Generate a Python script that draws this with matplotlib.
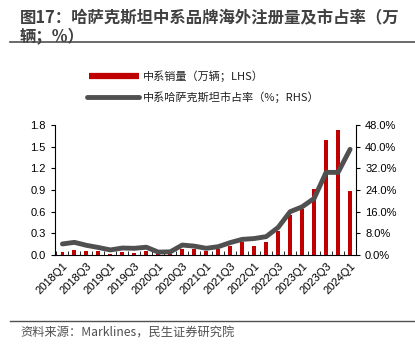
import numpy as np
import matplotlib.pyplot as plt

plt.rcParams['font.family'] = ['Liberation Sans', 'Noto Sans CJK SC', 'DejaVu Sans']

quarters = [f"{y}Q{q}" for y in range(2018, 2024) for q in range(1, 5)] + ["2024Q1"]
sales = [0.04, 0.065, 0.055, 0.05, 0.02, 0.04, 0.035, 0.06, 0.02, 0.02,
         0.09, 0.08, 0.055, 0.09, 0.13, 0.18, 0.13, 0.18, 0.33, 0.55,
         0.64, 0.91, 1.59, 1.73, 0.88]
share = [4.1, 4.7, 3.6, 2.8, 1.9, 2.6, 2.5, 2.9, 1.1, 1.2,
         3.7, 3.3, 2.5, 3.1, 4.6, 5.8, 6.1, 6.8, 10.2, 16.0,
         17.8, 20.9, 30.5, 30.5, 39.0]

x = np.arange(len(quarters))
red = '#C00000'
grey = '#505050'
cjk = ['Noto Sans CJK SC', 'DejaVu Sans']

fig = plt.figure(figsize=(4.15, 3.48), dpi=100)
ax = fig.add_axes([0.1325, 0.267, 0.7255, 0.374])
ax2 = ax.twinx()

ax.bar(x, sales, width=0.32, color=red, zorder=2)
ax2.plot(x, share, color=grey, lw=3.5, solid_capstyle='round', zorder=3)

ax.set_xlim(-0.62, 24.45)
ax.set_ylim(0, 1.8)
ax.set_yticks(np.arange(0, 1.81, 0.3))
ax.set_yticklabels([f"{v:.1f}" for v in np.arange(0, 1.81, 0.3)])
ax2.set_ylim(0, 48)
ax2.set_yticks(np.arange(0, 48.1, 8))
ax2.set_yticklabels([f"{v:.1f}%" for v in np.arange(0, 48.1, 8)])

ax.set_xticks(x[::2])
ax.set_xticklabels(quarters[::2], rotation=45, ha='right', rotation_mode='anchor', fontsize=8)
ax.set_xticks(np.arange(-0.5, 24.6, 1), minor=True)
ax.tick_params(axis='x', which='major', length=0, pad=4)
ax.tick_params(axis='x', which='minor', length=3, direction='in', color='black')
ax.tick_params(axis='y', labelsize=8, length=3)
ax2.tick_params(axis='y', labelsize=8, length=3)

for a in (ax, ax2):
    a.spines['top'].set_visible(False)
ax.spines['right'].set_visible(False)
ax2.spines['left'].set_visible(False)
ax2.spines['bottom'].set_visible(False)

# legend drawn in figure coords
fig.add_artist(plt.Line2D([0.215, 0.335], [1 - 76 / 348] * 2, color=red, lw=4.5, solid_capstyle='butt'))
fig.text(0.345, 1 - 76 / 348, "中系销量（万辆；LHS）", fontsize=8, va='center', color='#202020', family=cjk)
fig.add_artist(plt.Line2D([0.21, 0.335], [1 - 97 / 348] * 2, color=grey, lw=3.5, solid_capstyle='round'))
fig.text(0.345, 1 - 97 / 348, "中系哈萨克斯坦市占率（%；RHS）", fontsize=8, va='center', color='#202020', family=cjk)

fig.text(0.048, 1 - 18 / 348, "图17：哈萨克斯坦中系品牌海外注册量及市占率（万",
         fontsize=11.8, fontweight='bold', va='center', color='#404040', family=cjk)
fig.text(0.048, 1 - 36 / 348, "辆；%）",
         fontsize=11.8, fontweight='bold', va='center', color='#404040', family=cjk)
fig.add_artist(plt.Line2D([0.025, 1.0], [1 - 42 / 348] * 2, color='#505050', lw=1.2))
fig.add_artist(plt.Line2D([0.025, 1.0], [1 - 321 / 348] * 2, color='#505050', lw=1.0))
fig.text(0.048, 1 - 333 / 348, "资料来源：Marklines，民生证券研究院", fontsize=8.8, va='center', color='#505050',
         family=cjk)

fig.savefig('out.png', dpi=100)
